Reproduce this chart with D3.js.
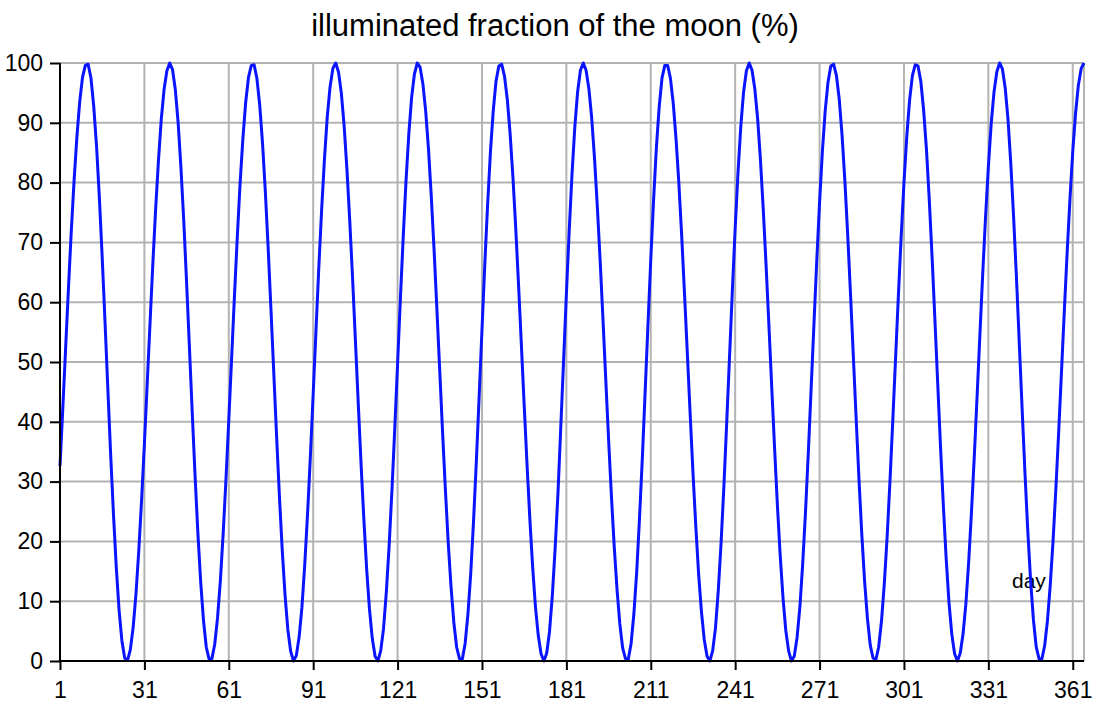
<!DOCTYPE html>
<html>
<head>
<meta charset="utf-8">
<script src="https://cdn.jsdelivr.net/npm/d3@7"></script>
<style>
  html, body { margin: 0; padding: 0; background: #ffffff; }
  svg { display: block; font-family: "Liberation Sans", Arial, sans-serif; }
</style>
</head>
<body>
<svg id="chart" width="1108" height="716"></svg>
<script>
const titleText = "illuminated fraction of the moon (%)";
const xAxisTitle = "day";
const xTicks = [1, 31, 61, 91, 121, 151, 181, 211, 241, 271, 301, 331, 361];
const yTicks = [0, 10, 20, 30, 40, 50, 60, 70, 80, 90, 100];
const firstDay = 1;
const lastDay = 365;

// illuminated fraction (%) for each day, day 1 .. day 365
const illumination = [
  32.6, 42.3, 52.3, 62.3, 71.8, 80.3, 87.6, 93.5, 97.6, 99.6,
  99.8, 97.5, 92.7, 86.0, 77.4, 67.5, 56.7, 45.6, 34.6, 24.6, 15.7, 8.5, 3.4, 0.5,
  0.1, 1.9, 5.6, 11.2, 18.4, 26.9, 36.3, 46.4, 56.5, 66.4, 75.6, 83.7, 90.6, 95.6, 98.7, 100.0,
  98.9, 95.5, 90.0, 82.4, 73.5, 63.3, 52.5, 41.6, 31.1, 21.5, 13.3, 6.8, 2.3, 0.3,
  0.4, 2.8, 7.2, 13.4, 21.3, 30.4, 40.3, 50.6, 60.9, 70.7, 79.7, 87.3, 93.4, 97.6, 99.6,
  99.7, 97.4, 92.9, 86.5, 78.4, 69.0, 58.7, 48.1, 37.5, 27.5, 18.5, 11.0, 5.2, 1.6, 0.0,
  0.9, 4.0, 9.0, 16.1, 24.6, 34.2, 44.7, 55.3, 65.8, 75.4, 83.9, 91.0, 96.0, 99.1,
  100.0, 98.5, 95.0, 89.5, 82.2, 73.6, 64.0, 53.7, 43.3, 33.1, 23.8, 15.4, 8.7, 3.8, 0.8,
  0.0, 1.7, 5.4, 11.5, 19.3, 28.6, 38.9, 49.7, 60.6, 70.9, 80.3, 88.2, 94.3, 98.2, 100.0,
  99.3, 96.5, 91.9, 85.5, 77.5, 68.5, 58.6, 48.4, 38.2, 28.6, 19.8, 12.4, 6.4, 2.3, 0.4,
  0.3, 2.9, 7.8, 14.6, 23.4, 33.4, 44.3, 55.4, 66.3, 76.3, 85.1, 92.0, 97.0, 99.5,
  99.8, 97.8, 93.9, 88.2, 80.9, 72.4, 62.9, 52.9, 42.8, 33.0, 23.9, 15.8, 9.1, 4.3, 1.2, 0.0,
  1.3, 4.9, 10.9, 18.8, 27.9, 39.0, 50.1, 61.3, 71.9, 81.4, 89.3, 95.2, 98.8,
  100.0, 98.8, 95.7, 90.8, 84.1, 76.0, 67.0, 57.2, 47.1, 37.1, 27.7, 19.2, 12.0, 6.2, 2.2, 0.4,
  0.3, 2.9, 7.9, 14.9, 23.9, 33.9, 45.0, 56.2, 67.1, 77.1, 85.9, 92.7, 97.5, 99.6,
  99.6, 97.4, 93.2, 87.2, 79.8, 71.0, 61.4, 51.4, 41.3, 31.5, 22.6, 14.6, 8.3, 3.6, 0.8,
  0.0, 1.7, 5.5, 11.8, 19.8, 29.3, 39.9, 50.9, 61.9, 72.3, 81.6, 89.4, 95.2, 98.7,
  100.0, 98.8, 95.6, 90.6, 83.7, 75.4, 66.1, 56.1, 45.8, 35.7, 26.2, 17.7, 10.6, 5.1, 1.7, 0.0,
  0.8, 3.9, 9.0, 16.2, 24.9, 34.8, 45.5, 56.3, 66.9, 76.6, 85.2, 92.0, 96.8, 99.5,
  99.8, 97.9, 93.9, 87.9, 80.3, 71.3, 61.4, 51.0, 40.6, 30.5, 21.3, 13.4, 7.2, 2.7, 0.5,
  0.2, 2.3, 6.6, 12.8, 20.6, 29.8, 39.9, 50.4, 60.9, 70.9, 80.0, 87.7, 93.8, 97.9, 99.7,
  99.5, 96.9, 92.1, 85.5, 77.1, 67.5, 57.1, 46.4, 35.8, 26.0, 17.2, 9.8, 4.5, 1.2,
  0.0, 1.3, 4.5, 9.5, 16.5, 24.9, 34.2, 44.3, 54.6, 64.8, 74.2, 82.6, 89.8, 95.1, 98.5, 100.0,
  99.0, 95.8, 90.5, 83.0, 74.0, 64.0, 53.1, 42.2, 31.6, 21.9, 13.6, 7.0, 2.4, 0.4,
  0.3, 2.5, 6.7, 12.7, 20.1, 28.8, 38.3, 48.4, 58.5, 68.2, 77.2, 85.2, 91.6, 96.3, 99.1,
  100.0
];

const svg = d3.select("#chart");
const plot = { left: 60, right: 1084, top: 63, bottom: 661 };

const x = d3.scaleLinear().domain([firstDay, lastDay]).range([plot.left, plot.right]);
const y = d3.scaleLinear().domain([0, 100]).range([plot.bottom, plot.top]);

const data = illumination.map((v, i) => ({ day: firstDay + i, value: v }));

// grid
const grid = svg.append("g").attr("class", "grid");
grid.selectAll("line.h").data(yTicks.filter(t => t > 0)).join("line")
  .attr("x1", plot.left).attr("x2", plot.right)
  .attr("y1", d => y(d)).attr("y2", d => y(d))
  .attr("stroke", "#b3b3b3").attr("stroke-width", 2);
grid.selectAll("line.v").data(xTicks.filter(t => t > firstDay)).join("line")
  .attr("x1", d => x(d)).attr("x2", d => x(d))
  .attr("y1", plot.top).attr("y2", plot.bottom)
  .attr("stroke", "#b3b3b3").attr("stroke-width", 2);
grid.append("line")
  .attr("x1", x(lastDay)).attr("x2", x(lastDay))
  .attr("y1", plot.top).attr("y2", plot.bottom)
  .attr("stroke", "#b3b3b3").attr("stroke-width", 2);

// axis title "day" (drawn beneath the series)
svg.append("text")
  .attr("x", 1012).attr("y", 588)
  .attr("font-size", 21).attr("fill", "#000")
  .text(xAxisTitle);

// series
svg.append("path")
  .datum(data)
  .attr("fill", "none")
  .attr("stroke", "#0a14ff")
  .attr("stroke-width", 3)
  .attr("stroke-linejoin", "round")
  .attr("d", d3.line().x(d => x(d.day)).y(d => y(d.value)));

// axes
const yAxis = d3.axisLeft(y).tickValues(yTicks).tickSize(10).tickPadding(7).tickFormat(d3.format("d"));
const gy = svg.append("g").attr("transform", `translate(${plot.left},0)`).call(yAxis);
gy.select(".domain").attr("stroke", "#000").attr("stroke-width", 2).attr("d", `M0,${plot.top}V${plot.bottom}`);
gy.selectAll(".tick line").attr("stroke", "#000").attr("stroke-width", 2);
gy.selectAll(".tick text").attr("font-size", 23).attr("fill", "#000")
  .attr("font-family", "Liberation Sans, Arial, sans-serif");

const xAxis = d3.axisBottom(x).tickValues(xTicks).tickSize(9).tickPadding(12).tickFormat(d3.format("d"));
const gx = svg.append("g").attr("transform", `translate(0,${plot.bottom})`).call(xAxis);
gx.select(".domain").attr("stroke", "#000").attr("stroke-width", 2).attr("d", `M${plot.left},0H${plot.right}`);
gx.selectAll(".tick line").attr("stroke", "#000").attr("stroke-width", 2);
gx.selectAll(".tick text").attr("font-size", 23).attr("fill", "#000")
  .attr("font-family", "Liberation Sans, Arial, sans-serif");

// title
svg.append("text")
  .attr("x", 555).attr("y", 36)
  .attr("text-anchor", "middle")
  .attr("font-size", 31).attr("fill", "#000")
  .text(titleText);
</script>
</body>
</html>
